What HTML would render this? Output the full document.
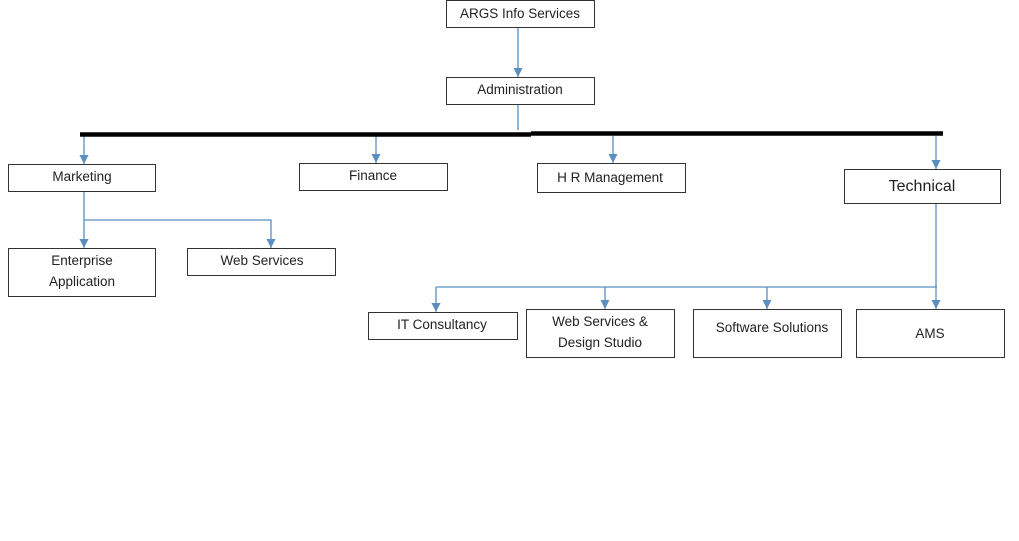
<!DOCTYPE html>
<html><head><style>body{margin:0;background:#fff}svg{display:block}text{font-family:"Liberation Sans",sans-serif;font-size:13.5px;fill:#222;text-anchor:middle}</style></head><body>
<svg width="1019" height="541" viewBox="0 0 1019 541">
<defs><marker id="a" markerWidth="9" markerHeight="9" refX="9" refY="4.5" orient="auto" markerUnits="userSpaceOnUse"><path d="M0,0L9,4.5L0,9z" fill="#5b8fbf"/></marker></defs>
<g fill="none" stroke="#5b8fbf" stroke-width="1.3">
<path d="M518,27V77" marker-end="url(#a)"/>
<path d="M518,104V130"/>
<path d="M84,136V164" marker-end="url(#a)"/>
<path d="M376,136V163" marker-end="url(#a)"/>
<path d="M613,136V163" marker-end="url(#a)"/>
<path d="M936,136V169" marker-end="url(#a)"/>
<path d="M84,191V248" marker-end="url(#a)"/>
<path d="M84,220H271V248" marker-end="url(#a)"/>
<path d="M936,203V309" marker-end="url(#a)"/>
<path d="M436,287H937"/>
<path d="M436,287V312" marker-end="url(#a)"/>
<path d="M605,287V309" marker-end="url(#a)"/>
<path d="M767,287V309" marker-end="url(#a)"/>
</g>
<path d="M80,134.5H531" stroke="#000" stroke-width="4.5"/>
<path d="M531,133.5H943" stroke="#000" stroke-width="4.5"/>
<g fill="#fff" stroke="#333" stroke-width="1">
<rect x="446.5" y="0.5" width="148" height="27"/>
<rect x="446.5" y="77.5" width="148" height="27"/>
<rect x="8.5" y="164.5" width="147" height="27"/>
<rect x="299.5" y="163.5" width="148" height="27"/>
<rect x="537.5" y="163.5" width="148" height="29"/>
<rect x="844.5" y="169.5" width="156" height="34"/>
<rect x="8.5" y="248.5" width="147" height="48"/>
<rect x="187.5" y="248.5" width="148" height="27"/>
<rect x="368.5" y="312.5" width="149" height="27"/>
<rect x="526.5" y="309.5" width="148" height="48"/>
<rect x="693.5" y="309.5" width="148" height="48"/>
<rect x="856.5" y="309.5" width="148" height="48"/>
</g>
<text x="520" y="18">ARGS Info Services</text>
<text x="520" y="94">Administration</text>
<text x="82" y="181">Marketing</text>
<text x="373" y="180">Finance</text>
<text x="610" y="182">H R Management</text>
<text x="922" y="191" style="font-size:16px">Technical</text>
<text x="82" y="265">Enterprise</text>
<text x="82" y="286">Application</text>
<text x="262" y="265">Web Services</text>
<text x="442" y="329">IT Consultancy</text>
<text x="600" y="326">Web Services &amp;</text>
<text x="600" y="347">Design Studio</text>
<text x="772" y="332">Software Solutions</text>
<text x="930" y="338">AMS</text>
</svg>
</body></html>
